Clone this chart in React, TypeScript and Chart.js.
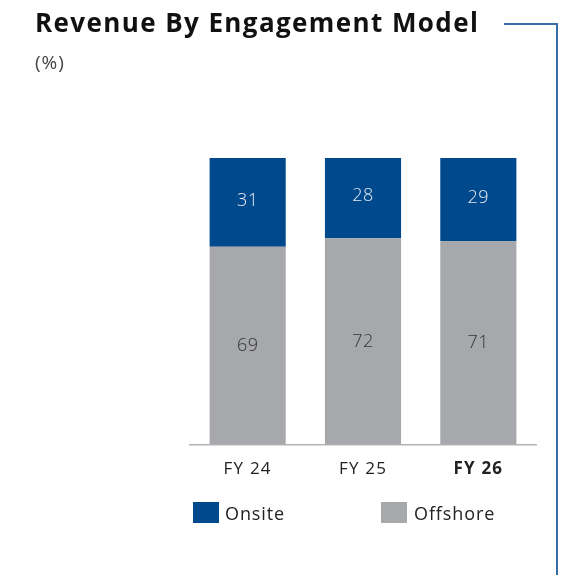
import React, { useEffect, useRef } from "react";
import { Chart, registerables } from "chart.js";

Chart.register(...registerables);

const categories = ["FY 24", "FY 25", "FY 26"];
const onsite = [31, 28, 29];
const offshore = [69, 72, 71];
const seriesNames = ["Onsite", "Offshore"];
const title = "Revenue By Engagement Model";
const unitLabel = "(%)";

const ONSITE_COLOR = "#00498d";
const OFFSHORE_COLOR = "#a7a8ac";
const FONT = "'Open Sans', 'DejaVu Sans', sans-serif";

export default function App() {
  const ref = useRef<HTMLCanvasElement | null>(null);
  useEffect(() => {
    if (!ref.current) return;
    const chart = new Chart(ref.current, {
      type: "bar",
      data: {
        labels: categories,
        datasets: [
          { label: seriesNames[1], data: offshore, backgroundColor: OFFSHORE_COLOR },
          { label: seriesNames[0], data: onsite, backgroundColor: ONSITE_COLOR },
        ],
      },
      options: {
        animation: false,
        responsive: false,
        devicePixelRatio: 1,
        layout: { padding: { left: 182, right: 30, top: 150, bottom: 10 } },
        plugins: { legend: { display: false }, tooltip: { enabled: false }, title: { display: false } },
        datasets: { bar: { categoryPercentage: 1, barPercentage: 0.66 } },
        scales: {
          x: {
            stacked: true,
            grid: { display: false, drawTicks: false },
            border: { display: true, color: "#b5b5b5", width: 1.5 },
            ticks: {
              padding: 14,
              color: "#222222",
              font: (c: any) => ({
                family: FONT,
                size: 17,
                weight: c.index === 2 ? "bold" : "normal",
              }),
            },
          },
          y: { stacked: true, display: false, min: 0, max: 100 },
        },
      },
      plugins: [
        {
          id: "spacing",
          beforeDraw(chart: any) {
            (chart.ctx as any).letterSpacing = "1.2px";
          },
        },
        {
          id: "valueLabels",
          afterDatasetsDraw(chart: any) {
            const ctx = chart.ctx;
            chart.data.datasets.forEach((ds: any, di: number) => {
              const meta = chart.getDatasetMeta(di);
              meta.data.forEach((bar: any, i: number) => {
                const y = (bar.y + bar.base) / 2 - (ds.label === "Onsite" ? 2 : 0);
                ctx.save();
                (ctx as any).letterSpacing = "0.5px";
                ctx.font = `300 18px ${FONT}`;
                ctx.fillStyle = ds.label === "Onsite" ? "#e6ebf2" : "#333333";
                ctx.textAlign = "center";
                ctx.textBaseline = "middle";
                ctx.fillText(String(ds.data[i]), bar.x, y);
                ctx.restore();
              });
            });
          },
        },
      ],
    });
    return () => chart.destroy();
  }, []);

  const lineColor = "#3a6ca6";
  return (
    <div style={{ position: "relative", width: 558, height: 567, fontFamily: FONT }}>
      <canvas ref={ref} width={558} height={495} style={{ position: "absolute", left: 0, top: 0 }} />
      <div
        style={{
          position: "absolute",
          left: 27,
          top: 1,
          fontSize: 26,
          lineHeight: "26px",
          fontWeight: 700,
          letterSpacing: "1.4px",
          color: "#111111",
          whiteSpace: "nowrap",
        }}
      >
        {title}
      </div>
      <div
        style={{
          position: "absolute",
          left: 27,
          top: 43,
          fontSize: 19,
          lineHeight: "22px",
          letterSpacing: "1px",
          color: "#444444",
        }}
      >
        {unitLabel}
      </div>
      <div style={{ position: "absolute", left: 496, top: 15, width: 54, height: 2, background: lineColor }} />
      <div style={{ position: "absolute", left: 548, top: 15, width: 2, height: 570, background: lineColor }} />
      <div style={{ position: "absolute", left: 185, top: 494, width: 26, height: 21, background: ONSITE_COLOR }} />
      <div
        style={{
          position: "absolute",
          left: 217,
          top: 494,
          fontSize: 18,
          lineHeight: "22px",
          letterSpacing: "0.9px",
          color: "#222222",
        }}
      >
        {seriesNames[0]}
      </div>
      <div style={{ position: "absolute", left: 373, top: 494, width: 26, height: 21, background: OFFSHORE_COLOR }} />
      <div
        style={{
          position: "absolute",
          left: 406,
          top: 494,
          fontSize: 18,
          lineHeight: "22px",
          letterSpacing: "0.9px",
          color: "#222222",
        }}
      >
        {seriesNames[1]}
      </div>
    </div>
  );
}
